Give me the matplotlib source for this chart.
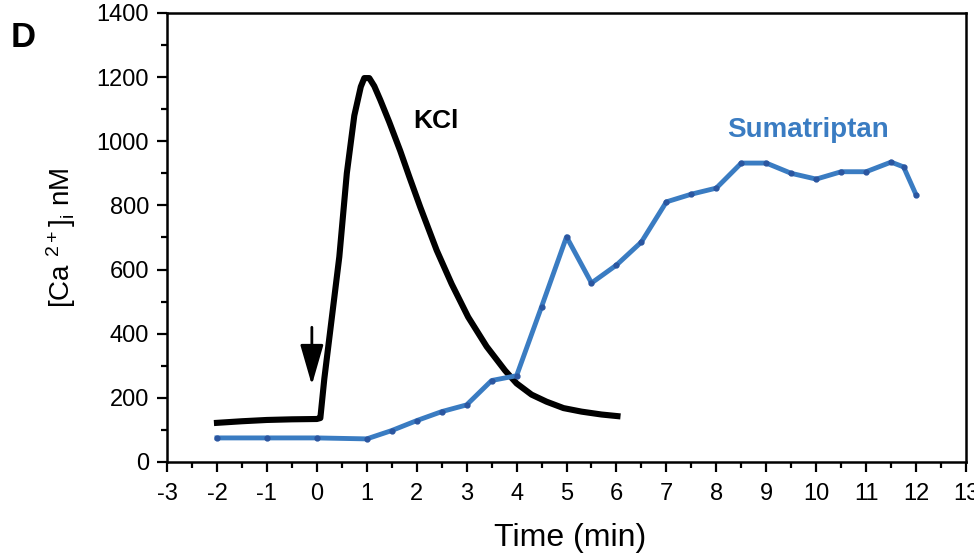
import matplotlib
matplotlib.use("Agg")
import matplotlib.pyplot as plt
from matplotlib.ticker import MultipleLocator

plt.rcParams['font.family'] = ['Liberation Sans', 'DejaVu Sans']
plt.rcParams['mathtext.default'] = 'regular'
plt.rcParams['axes.unicode_minus'] = False

# KCl trace (black)
kcl_time = [-2, -1.5, -1, -0.5, 0, 0.07, 0.15, 0.3, 0.45, 0.6, 0.75, 0.88, 0.95, 1.05,
            1.15, 1.27, 1.45, 1.67, 1.85, 2.07, 2.4, 2.7, 3.03, 3.4, 3.77, 4.0,
            4.3, 4.6, 4.94, 5.3, 5.7, 6.02]
kcl_conc = [122, 127, 131, 133, 134, 137, 260, 450, 640, 900, 1080, 1170, 1197, 1197,
            1172, 1129, 1060, 970, 890, 795, 660, 555, 452, 360, 285, 245,
            210, 188, 168, 157, 148, 143]

# Sumatriptan trace (blue)
suma_time = [-2, -1, 0, 1, 1.5, 2, 2.5, 3, 3.5, 4, 4.5, 5, 5.5, 6, 6.5, 7, 7.5, 8,
             8.5, 9, 9.5, 10, 10.5, 11, 11.5, 11.75, 12]
suma_conc = [75, 75, 75, 72, 98, 129, 157, 178, 254, 269, 484, 702, 558, 614, 686,
             811, 835, 854, 932, 932, 900, 882, 905, 905, 935, 920, 833]

x_ticks = list(range(-3, 14))
y_ticks = [0, 200, 400, 600, 800, 1000, 1200, 1400]

arrow_x = -0.1
arrow_from = 420
arrow_to = 240

blue = '#3a7cc2'

fig = plt.figure(figsize=(9.74, 5.57), dpi=100)
ax = fig.add_axes([0.1715, 0.1706, 0.8203, 0.8061])

ax.plot(kcl_time, kcl_conc, color='black', lw=4.4, solid_joinstyle='round',
        solid_capstyle='projecting', zorder=3)
ax.plot(suma_time, suma_conc, color=blue, lw=3.5, marker='o', markersize=3.5,
        markerfacecolor='#2b56a0', markeredgecolor='#2b56a0',
        solid_joinstyle='round', zorder=4)

ax.annotate('', xy=(arrow_x, arrow_to), xytext=(arrow_x, arrow_from),
            arrowprops=dict(arrowstyle='-|>,head_length=1.25,head_width=0.36',
                            lw=2.0, color='black', mutation_scale=20,
                            shrinkA=0, shrinkB=0))

ax.set_xlim(-3, 13)
ax.set_ylim(0, 1400)
ax.set_xticks(x_ticks)
ax.set_yticks(y_ticks)
ax.xaxis.set_minor_locator(MultipleLocator(0.5))
ax.yaxis.set_minor_locator(MultipleLocator(100))
ax.tick_params(axis='both', which='major', direction='out', length=7, width=1.6,
               labelsize=17)
ax.tick_params(axis='x', which='major', pad=8)
ax.tick_params(axis='y', which='major', pad=6)
ax.tick_params(axis='both', which='minor', direction='out', length=4.5, width=1.6)
for s in ax.spines.values():
    s.set_linewidth(1.8)

ax.set_xlabel('Time (min)', fontsize=23, va='top')
ax.xaxis.set_label_coords(0.505, -0.135)
ax.set_ylabel('[Ca $^{2+}$]$_{i}$ nM', fontsize=20)
ax.yaxis.set_label_coords(-0.112, 0.5)

ax.text(2.38, 1041, 'KCl', fontsize=19, fontweight='bold', color='black',
        ha='center', va='baseline')
ax.text(9.83, 1013, 'Sumatriptan', fontsize=20, fontweight='bold', color=blue,
        ha='center', va='baseline')

fig.text(0.024, 0.933, 'D', fontsize=25, fontweight='bold', ha='center', va='center')

fig.savefig('out.png', dpi=100)
